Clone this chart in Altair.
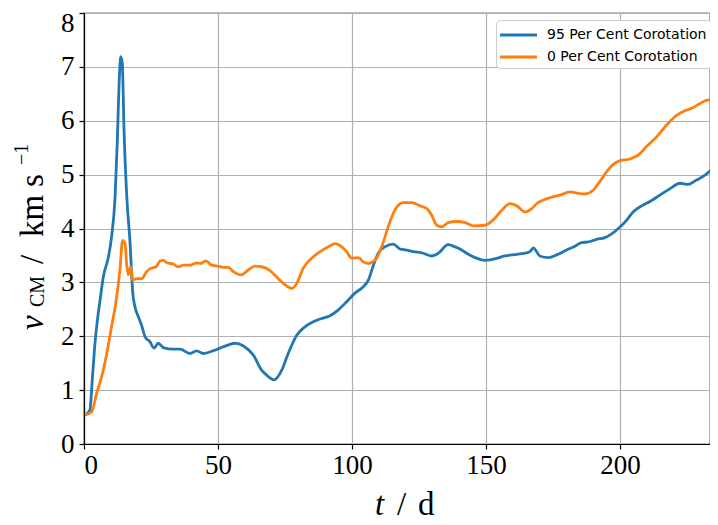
import altair as alt
import pandas as pd

# ---- data ----
t_95 = [0.4, 2.2, 3.1, 4.1, 5.0, 6.0, 7.2, 9.1, 10.3, 11.6, 12.4, 13.2, 13.7, 14.3, 14.9,
        15.9, 17.2, 18.2, 19.0, 20.3, 21.5, 22.8, 24.6, 26.1, 27.7, 29.6, 33.3, 35.8, 39.6,
        42.0, 44.5, 48.2, 50.7, 53.9, 56.3, 59.5, 63.2, 66.3, 68.8, 71.0, 73.8, 76.2, 79.4,
        81.8, 85.6, 88.7, 91.8, 94.9, 98.0, 101.1, 104.2, 106.1, 108.0, 109.8, 112.3, 115.4,
        117.9, 120.4, 122.9, 126.0, 129.7, 132.2, 135.9, 138.4, 140.3, 142.8, 145.9, 149.6,
        152.7, 157.1, 161.5, 165.2, 166.4, 167.7, 168.9, 170.1, 173.3, 176.4, 180.1, 183.2,
        185.7, 188.2, 191.3, 194.4, 196.9, 199.4, 201.9, 205.0, 208.1, 211.2, 214.9, 218.7,
        222.4, 225.5, 228.6, 231.7, 234.2, 236.6]
v_95 = [0.54, 0.63, 1.20, 1.87, 2.30, 2.67, 3.10, 3.47, 3.85, 4.59, 5.58, 6.81, 7.19, 7.06, 5.89,
        4.65, 3.72, 2.80, 2.55, 2.36, 2.20, 1.99, 1.90, 1.78, 1.87, 1.79, 1.76, 1.76, 1.68,
        1.73, 1.68, 1.73, 1.78, 1.84, 1.87, 1.82, 1.65, 1.37, 1.25, 1.19, 1.37, 1.68, 2.02,
        2.15, 2.27, 2.33, 2.38, 2.49, 2.64, 2.80, 2.92, 3.04, 3.32, 3.54, 3.66, 3.71,
        3.62, 3.60, 3.57, 3.55, 3.49, 3.54, 3.70, 3.66, 3.62, 3.54, 3.46, 3.41,
        3.43, 3.49, 3.52, 3.55, 3.57, 3.64, 3.57, 3.49, 3.46, 3.51, 3.60, 3.67,
        3.74, 3.75, 3.80, 3.83, 3.90, 4.00, 4.12, 4.31, 4.42, 4.50, 4.62, 4.74,
        4.84, 4.82, 4.90, 4.99, 5.10, 5.24]

t_0 = [0.4, 2.9, 4.7, 6.6, 8.5, 10.3, 12.2, 13.4, 14.4, 15.3, 15.9, 16.5, 17.4, 18.2, 19.7,
       21.5, 23.4, 24.9, 26.9, 28.4, 29.6, 31.1, 33.3, 35.2, 37.1, 39.6, 42.0, 43.5, 45.5,
       47.6, 50.1, 52.0, 53.9, 55.7, 58.8, 61.3, 63.8, 66.3, 69.4, 71.9, 74.4, 77.5, 79.4,
       81.8, 85.0, 88.1, 91.2, 93.7, 96.2, 98.0, 99.9, 102.4, 104.2, 106.1, 108.6, 111.1,
       113.5, 116.0, 119.1, 122.3, 125.4, 127.9, 129.7, 131.6, 133.5, 135.9, 139.1, 142.2,
       145.3, 149.6, 152.7, 155.9, 159.0, 161.5, 164.6, 167.1, 168.9, 171.4, 174.5, 177.6,
       181.3, 184.4, 186.9, 190.0, 192.5, 195.0, 197.5, 200.0, 203.7, 206.8, 209.9, 213.7,
       217.4, 221.1, 223.6, 226.7, 229.9, 232.3, 234.2, 236.6]
v_0 = [0.54, 0.60, 0.94, 1.25, 1.68, 2.18, 2.73, 3.23, 3.78, 3.72, 3.35, 3.14, 3.29, 3.04, 3.07,
       3.07, 3.20, 3.26, 3.29, 3.40, 3.41, 3.36, 3.34, 3.29, 3.32, 3.32, 3.36, 3.35, 3.40,
       3.32, 3.30, 3.28, 3.28, 3.20, 3.14, 3.23, 3.30, 3.29, 3.22, 3.10, 2.98, 2.89, 2.98,
       3.26, 3.45, 3.57, 3.66, 3.72, 3.66, 3.57, 3.45, 3.46, 3.38, 3.35, 3.41, 3.66,
       4.03, 4.34, 4.48, 4.48, 4.42, 4.37, 4.25, 4.06, 4.03, 4.11, 4.13, 4.11,
       4.05, 4.06, 4.16, 4.34, 4.46, 4.42, 4.31, 4.37, 4.46, 4.53, 4.58, 4.62,
       4.68, 4.65, 4.64, 4.71, 4.87, 5.05, 5.19, 5.26, 5.29, 5.36, 5.52, 5.70,
       5.92, 6.10, 6.17, 6.23, 6.32, 6.38, 6.39, 6.47]

series_names = ["95 Per Cent Corotation", "0 Per Cent Corotation"]
series_colors = ["#1f77b4", "#ff7f0e"]
x_ticks = [0, 50, 100, 150, 200]
y_ticks = [0, 1, 2, 3, 4, 5, 6, 7, 8]

df = pd.concat([
    pd.DataFrame({"t": t_95, "v": v_95, "series": series_names[0], "order": 0}),
    pd.DataFrame({"t": t_0, "v": v_0, "series": series_names[1], "order": 1}),
])

W, H = 626, 431
SERIF = "Liberation Serif"

lines = alt.Chart(df).mark_line(strokeWidth=2.8, interpolate="monotone", clip=True).encode(
    x=alt.X("t:Q", scale=alt.Scale(domain=[0, 233.6], nice=False, zero=False),
            axis=alt.Axis(values=x_ticks, title=None, labelPadding=3)),
    y=alt.Y("v:Q", scale=alt.Scale(domain=[0, 8], nice=False),
            axis=alt.Axis(values=y_ticks, title=None, labelPadding=5,
                          labelOffset={"condition": {"test": "datum.value == 8", "value": 10},
                                       "value": 0})),
    color=alt.Color("series:N",
                    scale=alt.Scale(domain=series_names, range=series_colors),
                    legend=alt.Legend(title=None, orient="none", legendX=412, legendY=7,
                                      symbolType="M-2,0L2,0", symbolStrokeWidth=3,
                                      symbolSize=342, symbolOffset=7.5,
                                      labelFont="DejaVu Sans",
                                      labelFontSize=14, labelColor="black",
                                      fillColor="white", strokeColor="#cccccc",
                                      cornerRadius=4, padding=4, rowPadding=4,
                                      labelOffset=17.5, labelLimit=400)),
    detail="order:N",
)


def txt(s, x, y, size=33, style="normal", angle=0):
    return alt.Chart(alt.Data(values=[{}])).mark_text(
        text=s, font=SERIF, fontSize=size, fontStyle=style, align="left",
        baseline="alphabetic", angle=angle, color="black"
    ).encode(x=alt.value(x), y=alt.value(y))


# x title: t / d   (positions relative to plot origin)
xt = [txt("t", 291, 502, style="italic"),
      txt("/", 313, 502),
      txt("d", 334, 502)]
# y title: v_CM / km s^-1 (rotated)
yt = [txt("v", -41, 317, style="italic", angle=270),
      txt("CM", -40, 294, size=20, angle=270),
      txt("/", -41, 251, angle=270),
      txt("km", -41, 224, angle=270),
      txt("s", -41, 174, angle=270),
      txt("\u22121", -56, 152, size=20, angle=270)]

chart = alt.layer(lines, *xt, *yt).properties(
    width=W, height=H,
    padding={"left": 76, "top": 5, "right": 0, "bottom": 81},
    autosize=alt.AutoSizeParams(type="none"),
).configure_view(stroke="black", strokeWidth=1.2).configure_axis(
    grid=True, gridColor="#b0b0b0", gridWidth=1.2,
    domainColor="black", domainWidth=1.2,
    tickColor="black", tickSize=5, tickWidth=1.2,
    labelFont=SERIF, labelFontSize=27, labelColor="black",
)

chart.save("out.html", embed_options={"renderer": "svg", "actions": False})
